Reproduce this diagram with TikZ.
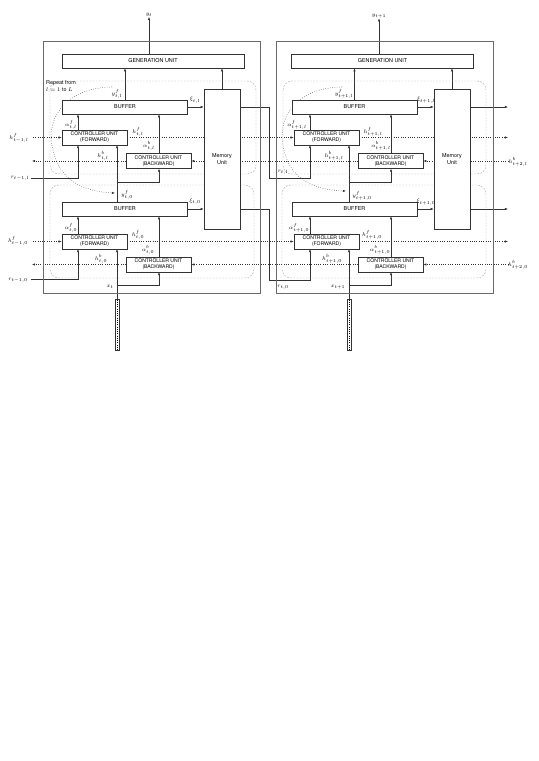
\documentclass[tikz,border=0pt]{standalone}
\usepackage{fontspec}
\setmainfont{TeX Gyre Heros}
\usetikzlibrary{arrows.meta, positioning, backgrounds}
\definecolor{line-gray}{HTML}{333333}
\definecolor{frame-gray}{HTML}{6a6a6a}
\definecolor{dash-gray}{HTML}{a8a8a8}

\begin{document}
\begin{tikzpicture}[
    x=0.039cm, y=-0.039cm,
    font=\fontsize{6}{7}\selectfont,
    unit/.style={draw=line-gray, line width=0.6pt, fill=white, inner sep=0pt, align=center},
    genbox/.style={unit, minimum width=7.098cm, minimum height=0.546cm},
    bufbox/.style={unit, minimum width=4.875cm, minimum height=0.546cm},
    ctrlbox/.style={unit, minimum width=2.535cm, minimum height=0.57cm, font=\fontsize{5.6}{6.6}\selectfont},
    membox/.style={unit, minimum width=1.404cm, minimum height=5.46cm},
    tapebox/.style={draw=line-gray, line width=0.5pt, minimum width=0.16cm, minimum height=1.99cm, inner sep=0pt},
    lbl/.style={inner sep=0pt, font=\fontsize{6}{7}\selectfont},
    arrow/.style={-{Latex[length=3.4pt,width=2.6pt]}, line width=0.55pt, line-gray},
    flow/.style={arrow, dotted, line width=0.6pt},
    cellframe/.style={draw=frame-gray, line width=0.8pt},
    layerframe/.style={draw=dash-gray, dash pattern=on 2pt off 1.5pt, line width=0.5pt, rounded corners=0.35cm}
]
    \useasboundingbox (0,0) rectangle (538,761);

    % frames
    \draw[cellframe] (43,41) rectangle (260,293);
    \draw[cellframe] (276,41) rectangle (493,293);
    \draw[layerframe] (50,81) rectangle (256,174);
    \draw[layerframe] (50,185) rectangle (254,278);
    \draw[layerframe] (283,81) rectangle (486,174);
    \draw[layerframe] (282,185) rectangle (486,278);

    % columns and free ends
    \coordinate (colA) at (78,0);
    \coordinate (colB) at (117,0);
    \coordinate (colC) at (159,0);
    \coordinate (colD) at (310,0);
    \coordinate (colE) at (349,0);
    \coordinate (colF) at (391,0);
    \coordinate (inhfU) at (33,137.5);
    \coordinate (outhbU) at (32,161);
    \coordinate (inrU) at (31,178);
    \coordinate (inhfL) at (33,241.5);
    \coordinate (outhbL) at (32,264.5);
    \coordinate (inrL) at (31,279);
    \coordinate (brAU) at (117,182);
    \coordinate (brAL) at (117,285);
    \coordinate (brBU) at (349,182);
    \coordinate (brBL) at (349,285);
    \coordinate (jogU) at (269,178);
    \coordinate (jogL) at (269,280);
    \coordinate (outmU) at (508,107);
    \coordinate (outhfU) at (508,137.5);
    \coordinate (inhbU) at (508,161);
    \coordinate (outmL) at (508,209);
    \coordinate (outhfL) at (508,241.5);
    \coordinate (inhbL) at (508,264.5);
    \coordinate (repA0) at (112,87);
    \coordinate (repA1) at (115,193);
    \coordinate (repB0) at (342,87);
    \coordinate (repB1) at (346,191);

    % cell t
    \node[genbox] (genA) at (153,61) {GENERATION UNIT};
    \node[bufbox] (bufAU) at (125,107) {BUFFER};
    \node[bufbox] (bufAL) at (125,209) {BUFFER};
    \node[ctrlbox] (fwdAU) at (94.5,137.5) {CONTROLLER UNIT\\(FORWARD)};
    \node[ctrlbox] (bwdAU) at (158.5,161) {CONTROLLER UNIT\\(BACKWARD)};
    \node[ctrlbox] (fwdAL) at (94.5,241.5) {CONTROLLER UNIT\\(FORWARD)};
    \node[ctrlbox] (bwdAL) at (158.5,264.5) {CONTROLLER UNIT\\(BACKWARD)};
    \node[membox] (memA) at (222,159) {Memory\\Unit};
    \node[tapebox] (tapeA) at (117,324.5) {};

    % cell t+1
    \node[genbox] (genB) at (382.5,61) {GENERATION UNIT};
    \node[bufbox] (bufBU) at (354.5,107) {BUFFER};
    \node[bufbox] (bufBL) at (354.5,209) {BUFFER};
    \node[ctrlbox] (fwdBU) at (326.5,137.5) {CONTROLLER UNIT\\(FORWARD)};
    \node[ctrlbox] (bwdBU) at (390.5,161) {CONTROLLER UNIT\\(BACKWARD)};
    \node[ctrlbox] (fwdBL) at (326.5,241.5) {CONTROLLER UNIT\\(FORWARD)};
    \node[ctrlbox] (bwdBL) at (390.5,264.5) {CONTROLLER UNIT\\(BACKWARD)};
    \node[membox] (memB) at (452,159) {Memory\\Unit};
    \node[tapebox] (tapeB) at (349,324.5) {};

    % tapes
    \draw[dotted, line width=0.5pt] ([yshift=-1pt]tapeA.north) -- ([yshift=1pt]tapeA.south);
    \draw[dotted, line width=0.5pt] ([yshift=-1pt]tapeB.north) -- ([yshift=1pt]tapeB.south);

    % labels, cell t
    \node[lbl] (yA) at (149,15) {$y_t$};
    \node[lbl] (yfAU) at (117,94) {$y^f_{t,l}$};
    \node[lbl] (xiAU) at (195,100) {$\xi_{t,l}$};
    \node[lbl] (afAU) at (71,125) {$\alpha^f_{t,l}$};
    \node[lbl] (hfAU) at (138,132) {$h^f_{t,l}$};
    \node[lbl] (abAU) at (149,146) {$\alpha^b_{t,l}$};
    \node[lbl] (hbAU) at (103,156) {$h^b_{t,l}$};
    \node[lbl] (hfinAU) at (19,138) {$h^f_{t-1,l}$};
    \node[lbl] (rinAU) at (20,178) {$r_{t-1,l}$};
    \node[lbl] (yfAL) at (127,195) {$y^f_{t,0}$};
    \node[lbl] (xiAL) at (195,202) {$\xi_{t,0}$};
    \node[lbl] (afAL) at (71,228) {$\alpha^f_{t,0}$};
    \node[lbl] (hfAL) at (138,235) {$h^f_{t,0}$};
    \node[lbl] (abAL) at (148,250) {$\alpha^b_{t,0}$};
    \node[lbl] (hbAL) at (101,259) {$h^b_{t,0}$};
    \node[lbl] (hfinAL) at (18,241) {$h^f_{t-1,0}$};
    \node[lbl] (rinAL) at (18,280) {$r_{t-1,0}$};
    \node[lbl] (xA) at (110,287) {$x_t$};
    \node[lbl, align=left, anchor=west] (repeat) at (46,86) {Repeat from\\$l=1$ to $L$};

    % labels, cell t+1
    \node[lbl] (yB) at (379,16) {$y_{t+1}$};
    \node[lbl] (yfBU) at (344,94) {$y^f_{t+1,l}$};
    \node[lbl] (xiBU) at (426,100) {$\xi_{t+1,l}$};
    \node[lbl] (afBU) at (297,125) {$\alpha^f_{t+1,l}$};
    \node[lbl] (hfBU) at (373,132) {$h^f_{t+1,l}$};
    \node[lbl] (abBU) at (381,146) {$\alpha^b_{t+1,l}$};
    \node[lbl] (hbBU) at (334,156) {$h^b_{t+1,l}$};
    \node[lbl] (hbinBU) at (518,162) {$h^b_{t+2,l}$};
    \node[lbl] (rBU) at (283,172) {$r_{t,l}$};
    \node[lbl] (yfBL) at (362,196) {$y^f_{t+1,0}$};
    \node[lbl] (xiBL) at (426,202) {$\xi_{t+1,0}$};
    \node[lbl] (afBL) at (299,228) {$\alpha^f_{t+1,0}$};
    \node[lbl] (hfBL) at (372,235) {$h^f_{t+1,0}$};
    \node[lbl] (abBL) at (380,250) {$\alpha^b_{t+1,0}$};
    \node[lbl] (hbBL) at (332,259) {$h^b_{t+1,0}$};
    \node[lbl] (hbinBL) at (518,265) {$h^b_{t+2,0}$};
    \node[lbl] (rBL) at (283,287) {$r_{t,0}$};
    \node[lbl] (xB) at (338,287) {$x_{t+1}$};

    \begin{scope}[on background layer]
        % cell t
        \draw[arrow] (genA.north -| yA) -- (yA.south);
        \draw[arrow] (bufAU.north) -- (bufAU.north |- genA.south);
        \draw[arrow] (memA.north) -- (memA.north |- genA.south);
        \draw[arrow] (bufAU.east) -- (bufAU.east -| memA.west);
        \draw[arrow] (bufAL.east) -- (bufAL.east -| memA.west);
        \draw[arrow] (fwdAU.north -| colA) -- (bufAU.south -| colA);
        \draw[arrow] (bwdAU.north -| colC) -- (bufAU.south -| colC);
        \draw[arrow] (fwdAL.north -| colA) -- (bufAL.south -| colA);
        \draw[arrow] (bwdAL.north -| colC) -- (bufAL.south -| colC);
        \draw[flow] (inhfU) -- (fwdAU.west);
        \draw[flow] (inhfL) -- (fwdAL.west);
        \draw[flow] (bwdAU.west) -- (outhbU);
        \draw[flow] (bwdAL.west) -- (outhbL);
        \draw[arrow] (inrU) -| (fwdAU.south -| colA);
        \draw[arrow] (inrL) -| (fwdAL.south -| colA);
        \draw[arrow] (bufAL.north -| colB) -- (fwdAU.south -| colB);
        \draw[arrow] (brAU) -| (bwdAU.south -| colC);
        \draw[arrow] (tapeA.north) -- (fwdAL.south -| colB);
        \draw[arrow] (brAL) -| (bwdAL.south -| colC);
        \draw[flow] (repA0) .. controls (62,88) and (45,122) .. (53,150)
            .. controls (60,183) and (88,192) .. (repA1);

        % between cells
        \draw[flow] (fwdAU.east) -- (fwdBU.west);
        \draw[flow] (fwdAL.east) -- (fwdBL.west);
        \draw[flow] (bwdBU.west) -- (bwdAU.east);
        \draw[flow] (bwdBL.west) -- (bwdAL.east);
        \draw[arrow] (bufAU.east -| memA.east) -| (jogU) -| (fwdBU.south -| colD);
        \draw[arrow] (bufAL.east -| memA.east) -| (jogL) -| (fwdBL.south -| colD);

        % cell t+1
        \draw[arrow] (genB.north -| yB) -- (yB.south);
        \draw[arrow] (bufBU.north) -- (bufBU.north |- genB.south);
        \draw[arrow] (memB.north) -- (memB.north |- genB.south);
        \draw[arrow] (bufBU.east) -- (bufBU.east -| memB.west);
        \draw[arrow] (bufBL.east) -- (bufBL.east -| memB.west);
        \draw[arrow] (fwdBU.north -| colD) -- (bufBU.south -| colD);
        \draw[arrow] (bwdBU.north -| colF) -- (bufBU.south -| colF);
        \draw[arrow] (fwdBL.north -| colD) -- (bufBL.south -| colD);
        \draw[arrow] (bwdBL.north -| colF) -- (bufBL.south -| colF);
        \draw[arrow] (bufBU.east -| memB.east) -- (outmU);
        \draw[arrow] (bufBL.east -| memB.east) -- (outmL);
        \draw[flow] (fwdBU.east) -- (outhfU);
        \draw[flow] (fwdBL.east) -- (outhfL);
        \draw[flow] (inhbU) -- (bwdBU.east);
        \draw[flow] (inhbL) -- (bwdBL.east);
        \draw[arrow] (bufBL.north -| colE) -- (fwdBU.south -| colE);
        \draw[arrow] (brBU) -| (bwdBU.south -| colF);
        \draw[arrow] (tapeB.north) -- (fwdBL.south -| colE);
        \draw[arrow] (brBL) -| (bwdBL.south -| colF);
        \draw[flow] (repB0) .. controls (292,88) and (276,122) .. (284,150)
            .. controls (291,182) and (318,190) .. (repB1);
    \end{scope}
\end{tikzpicture}
\end{document}
